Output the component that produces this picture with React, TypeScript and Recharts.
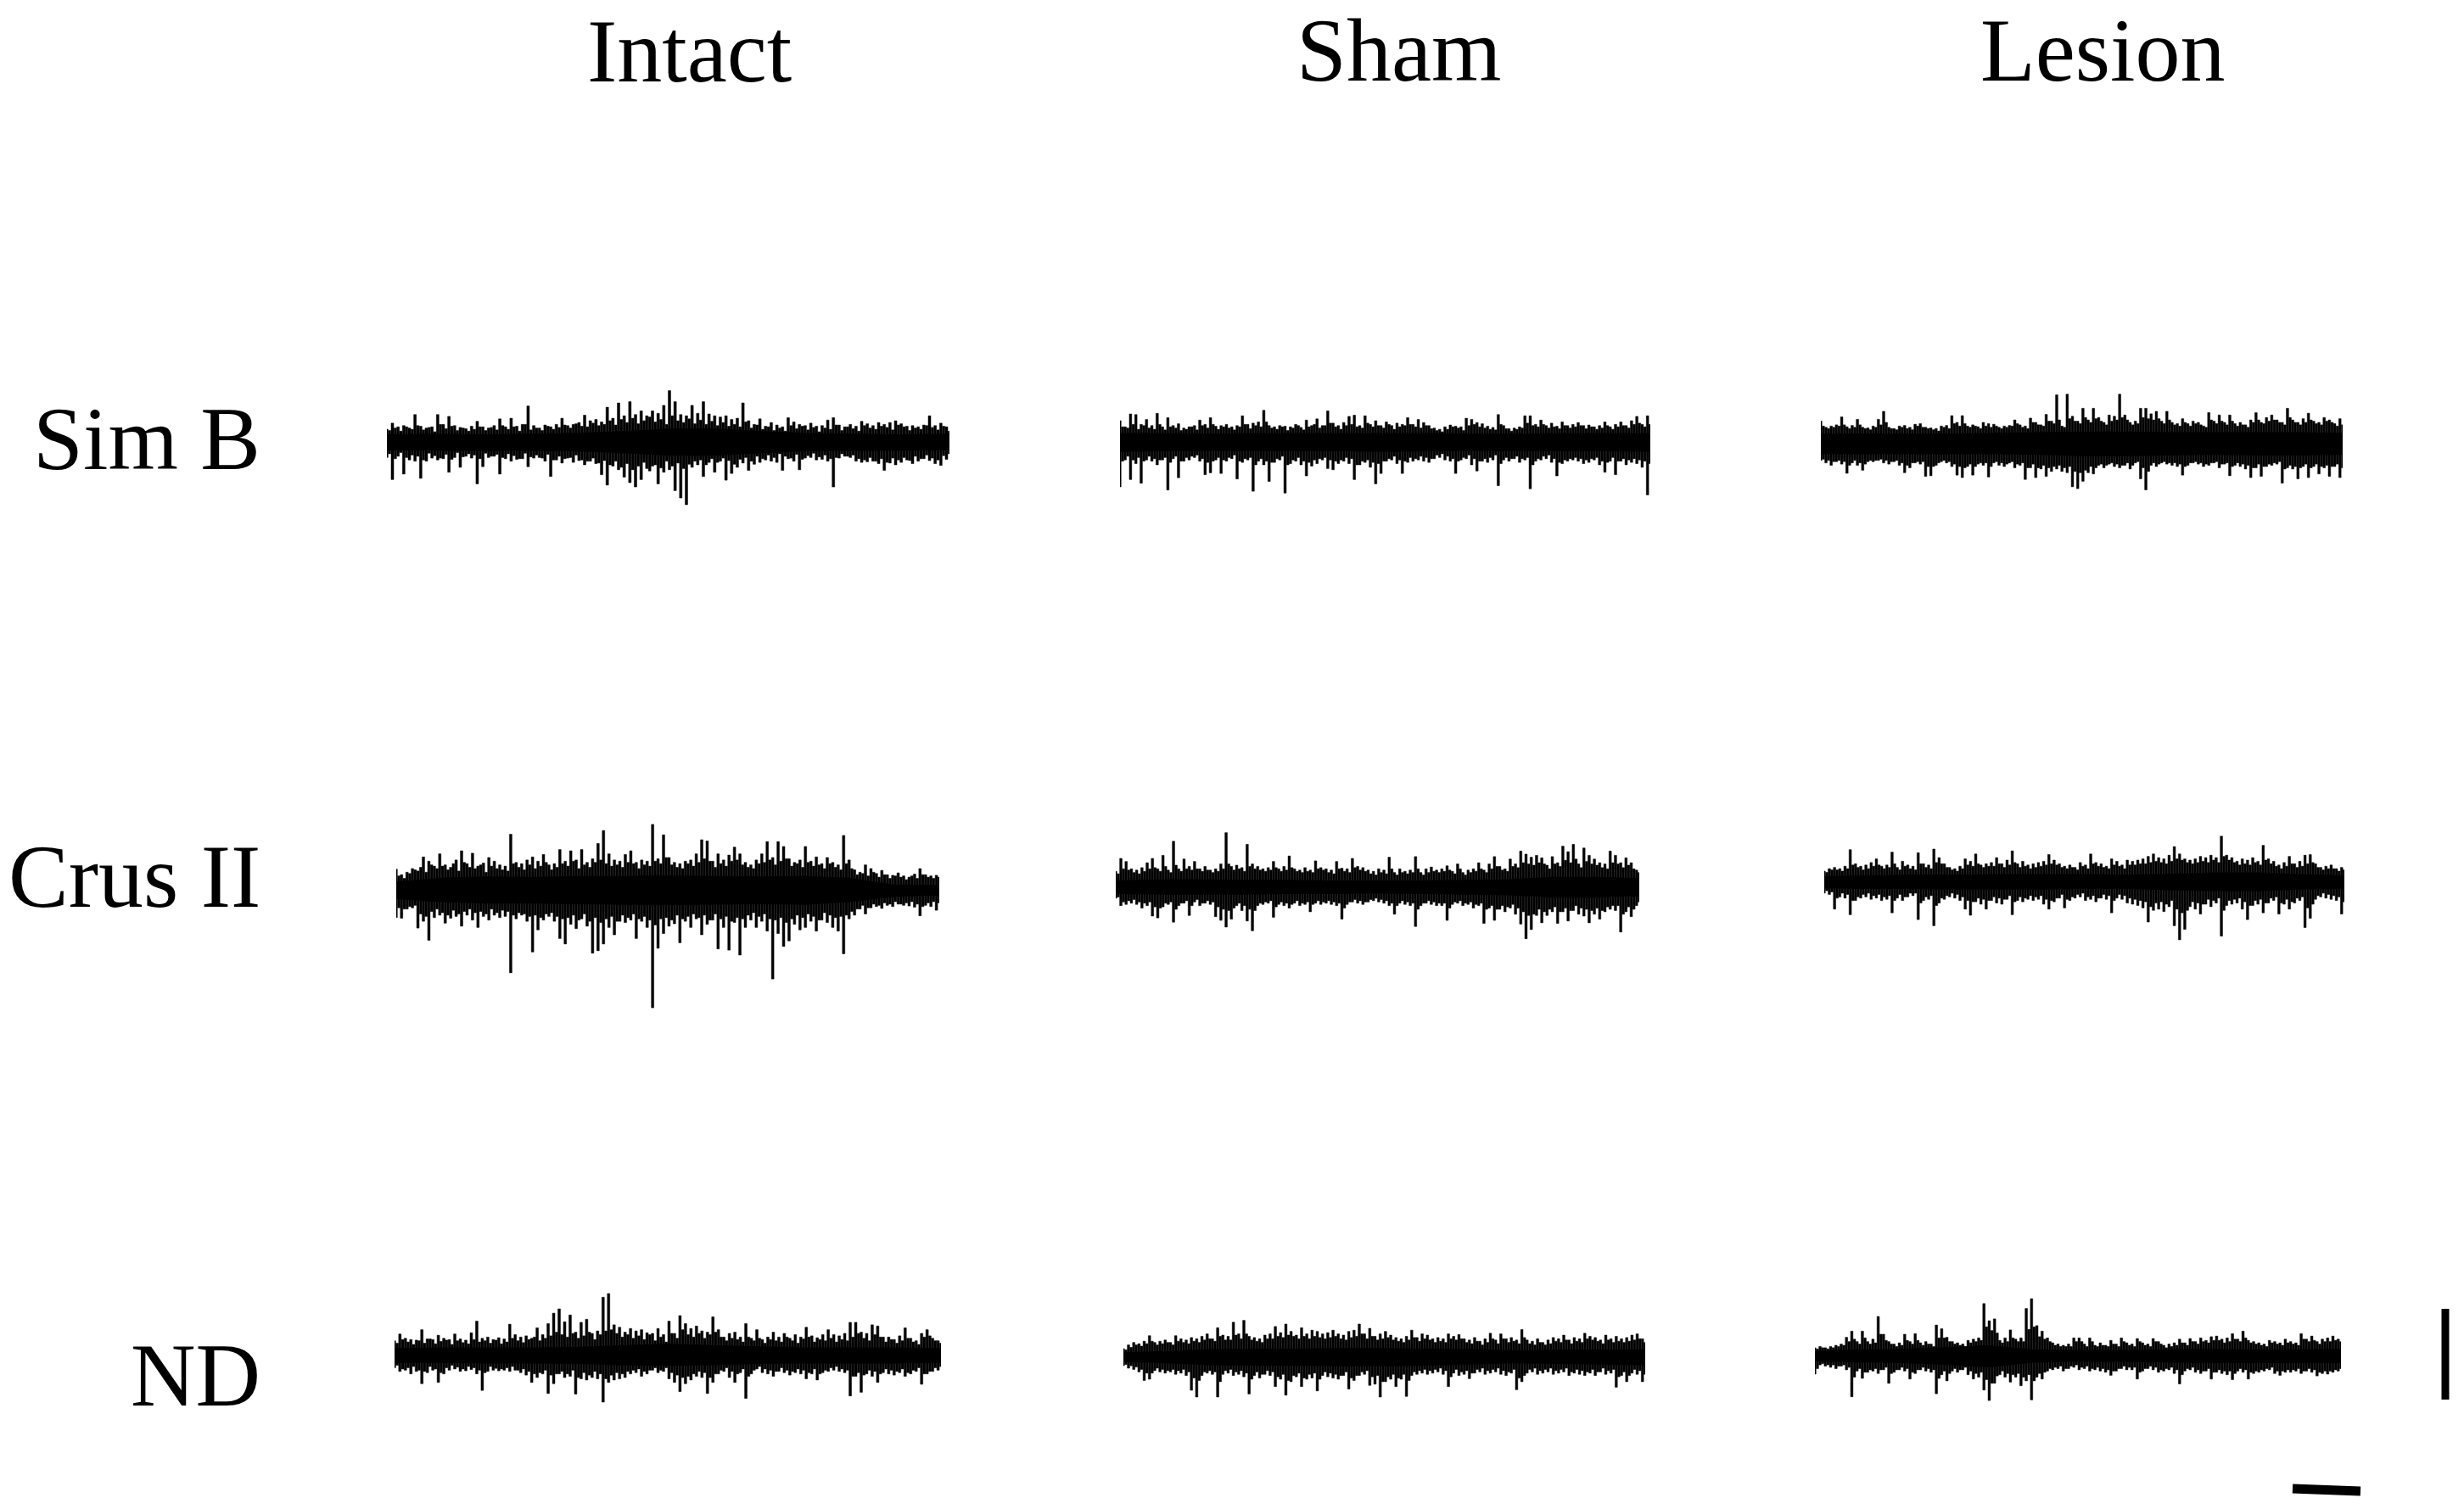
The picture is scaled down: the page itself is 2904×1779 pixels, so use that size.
import { Area, Bar, ComposedChart, XAxis, YAxis } from 'recharts';

const columns = ['Intact', 'Sham', 'Lesion'];
const rows = ['Sim B', 'Crus II', 'ND'];

// peak heights, one value per time bin, above and below the baseline
const intactSimBUp = [
  22, 32, 26, 28, 24, 46, 27, 24, 26, 46, 30, 43, 28, 25, 23, 27, 35, 26, 24, 28,
  39, 26, 40, 27, 30, 60, 28, 24, 29, 26, 30, 40, 28, 30, 33, 45, 36, 38, 34, 58,
  40, 65, 44, 67, 46, 52, 44, 52, 48, 61, 85, 67, 46, 44, 61, 48, 67, 47, 44, 42,
  44, 38, 40, 65, 36, 30, 39, 27, 33, 29, 26, 41, 34, 30, 28, 32, 27, 28, 37, 41,
  29, 26, 30, 27, 35, 31, 28, 33, 30, 33, 36, 31, 27, 28, 26, 29, 44, 28, 32, 26,
];
const intactSimBDown = [
  24, 60, 22, 51, 28, 30, 58, 30, 25, 28, 26, 48, 24, 40, 22, 25, 67, 39, 24, 22,
  51, 26, 30, 27, 26, 39, 25, 24, 30, 55, 28, 33, 25, 32, 29, 36, 30, 34, 52, 69,
  38, 44, 56, 65, 72, 60, 42, 38, 67, 48, 44, 78, 90, 101, 40, 36, 55, 32, 48, 30,
  61, 50, 40, 33, 45, 35, 32, 28, 30, 32, 45, 26, 30, 44, 25, 24, 28, 27, 30, 72,
  25, 22, 24, 30, 32, 31, 30, 34, 45, 33, 36, 32, 28, 34, 30, 26, 29, 34, 37, 27,
];
const intactCrusUp = [
  35, 26, 30, 36, 32, 55, 48, 40, 60, 42, 38, 50, 65, 44, 61, 40, 45, 54, 48, 42,
  40, 92, 46, 44, 50, 55, 48, 59, 42, 44, 67, 48, 65, 50, 67, 46, 52, 77, 98, 60,
  50, 48, 59, 65, 46, 50, 48, 108, 52, 91, 54, 46, 44, 48, 50, 60, 83, 81, 48, 60,
  50, 58, 71, 60, 46, 42, 50, 60, 80, 54, 80, 72, 52, 46, 50, 72, 48, 55, 44, 54,
  46, 42, 90, 50, 34, 30, 42, 36, 28, 33, 26, 25, 29, 24, 22, 27, 36, 26, 24, 25,
];
const intactCrusDown = [
  44, 45, 30, 28, 61, 50, 81, 44, 40, 53, 45, 42, 58, 40, 48, 60, 42, 48, 40, 44,
  42, 134, 46, 40, 50, 100, 64, 48, 42, 50, 78, 87, 55, 62, 46, 58, 102, 98, 87, 60,
  72, 50, 52, 48, 78, 50, 60, 191, 94, 70, 58, 54, 85, 50, 60, 46, 72, 55, 48, 95,
  60, 97, 52, 105, 60, 48, 60, 50, 66, 144, 70, 91, 82, 55, 64, 60, 50, 66, 48, 52,
  60, 66, 103, 46, 40, 30, 38, 28, 26, 29, 24, 26, 22, 24, 25, 27, 41, 24, 26, 32,
];
const intactNdUp = [
  24, 35, 28, 26, 25, 42, 27, 26, 33, 28, 26, 35, 27, 25, 37, 56, 28, 30, 26, 29,
  27, 51, 34, 30, 32, 28, 45, 34, 52, 69, 76, 55, 66, 38, 54, 59, 36, 40, 95, 101,
  50, 46, 38, 44, 40, 42, 37, 36, 44, 34, 56, 36, 65, 52, 44, 48, 40, 38, 63, 42,
  30, 36, 38, 30, 52, 28, 42, 26, 30, 38, 30, 36, 28, 34, 30, 46, 32, 29, 34, 42,
  34, 32, 36, 54, 54, 38, 36, 50, 48, 30, 30, 26, 32, 45, 28, 24, 36, 42, 28, 24,
];
const intactNdDown = [
  20, 26, 24, 30, 26, 46, 28, 24, 44, 30, 24, 22, 26, 25, 23, 30, 57, 26, 24, 25,
  24, 26, 24, 28, 32, 44, 36, 30, 62, 46, 30, 36, 34, 63, 38, 40, 36, 38, 76, 44,
  40, 38, 36, 30, 28, 34, 30, 24, 28, 26, 38, 44, 59, 46, 40, 34, 36, 62, 44, 30,
  26, 36, 44, 28, 70, 30, 22, 28, 30, 34, 26, 28, 32, 28, 30, 38, 30, 40, 28, 26,
  24, 26, 28, 66, 34, 60, 30, 34, 44, 28, 30, 32, 28, 34, 30, 26, 47, 30, 26, 24,
];
const shamSimBUp = [
  36, 26, 47, 46, 30, 38, 28, 48, 26, 41, 28, 31, 24, 26, 28, 37, 30, 41, 27, 28,
  30, 26, 28, 44, 30, 32, 34, 53, 28, 26, 28, 27, 26, 30, 25, 37, 28, 39, 28, 52,
  32, 28, 33, 43, 45, 28, 44, 30, 36, 28, 34, 28, 32, 30, 41, 30, 38, 33, 28, 24,
  22, 26, 29, 27, 26, 40, 38, 33, 31, 27, 25, 46, 28, 23, 24, 26, 44, 44, 30, 37,
  28, 32, 27, 34, 28, 30, 33, 28, 29, 26, 28, 34, 26, 30, 34, 28, 36, 43, 30, 44,
];
const shamSimBDown = [
  72, 28, 60, 34, 66, 28, 30, 36, 28, 77, 26, 57, 30, 28, 24, 30, 52, 49, 28, 50,
  30, 26, 59, 32, 28, 79, 30, 36, 63, 32, 28, 82, 34, 30, 36, 54, 38, 34, 28, 42,
  44, 34, 30, 34, 60, 36, 32, 40, 67, 50, 30, 28, 34, 50, 32, 30, 28, 30, 32, 26,
  24, 28, 30, 50, 28, 26, 36, 46, 30, 32, 28, 70, 28, 30, 26, 32, 28, 75, 30, 28,
  26, 32, 54, 34, 30, 28, 30, 34, 32, 28, 36, 48, 30, 52, 30, 36, 32, 34, 40, 85,
];
const shamCrusUp = [
  26, 47, 42, 30, 28, 32, 40, 47, 30, 52, 28, 75, 30, 46, 34, 42, 30, 34, 28, 30,
  38, 89, 34, 36, 32, 70, 38, 34, 30, 32, 42, 30, 34, 51, 30, 28, 32, 28, 43, 32,
  30, 28, 42, 31, 30, 47, 34, 32, 28, 26, 30, 28, 49, 24, 30, 26, 28, 50, 24, 30,
  33, 28, 30, 35, 26, 38, 24, 28, 30, 40, 28, 38, 50, 34, 30, 46, 38, 59, 54, 49,
  52, 48, 36, 50, 40, 67, 58, 70, 38, 64, 52, 46, 40, 38, 59, 52, 40, 48, 40, 28,
];
const shamCrusDown = [
  18, 30, 28, 26, 28, 34, 30, 47, 50, 32, 28, 57, 30, 26, 46, 24, 30, 26, 28, 48,
  54, 65, 52, 30, 38, 55, 71, 30, 28, 26, 49, 28, 30, 34, 26, 30, 28, 40, 26, 28,
  26, 28, 30, 52, 28, 24, 26, 28, 24, 22, 24, 26, 30, 44, 26, 28, 30, 64, 30, 26,
  28, 30, 30, 54, 28, 26, 30, 28, 34, 30, 59, 34, 54, 36, 40, 34, 44, 60, 84, 69,
  46, 58, 46, 40, 59, 40, 55, 38, 44, 47, 58, 44, 52, 40, 36, 38, 73, 40, 48, 30,
];
const shamNdUp = [
  14, 20, 24, 22, 26, 35, 24, 26, 28, 24, 35, 30, 28, 32, 30, 34, 38, 30, 48, 36,
  34, 57, 38, 60, 34, 32, 30, 36, 38, 50, 40, 54, 42, 36, 48, 38, 44, 42, 38, 40,
  44, 38, 36, 42, 44, 54, 38, 47, 34, 38, 42, 36, 32, 30, 34, 44, 32, 38, 36, 30,
  32, 30, 38, 34, 37, 30, 28, 32, 26, 30, 39, 28, 38, 30, 32, 28, 45, 28, 26, 30,
  24, 28, 32, 30, 36, 28, 32, 30, 39, 34, 32, 28, 36, 30, 34, 30, 32, 36, 38, 30,
];
const shamNdDown = [
  14, 18, 20, 24, 38, 36, 22, 24, 26, 24, 28, 26, 30, 54, 65, 30, 26, 28, 65, 28,
  26, 30, 28, 32, 60, 30, 34, 28, 30, 48, 36, 62, 40, 32, 48, 36, 34, 55, 30, 32,
  34, 36, 30, 52, 38, 30, 28, 46, 44, 65, 40, 36, 48, 36, 64, 30, 28, 26, 28, 26,
  24, 28, 48, 26, 30, 28, 35, 26, 24, 28, 26, 24, 28, 30, 26, 53, 40, 26, 24, 28,
  26, 24, 28, 26, 24, 30, 26, 28, 30, 26, 30, 24, 28, 26, 49, 30, 40, 26, 28, 40,
];
const lesionSimBUp = [
  38, 28, 30, 32, 45, 29, 31, 41, 28, 27, 30, 41, 54, 28, 26, 30, 31, 28, 33, 34,
  28, 27, 26, 30, 31, 47, 36, 47, 30, 32, 29, 36, 34, 33, 28, 30, 31, 40, 32, 30,
  43, 36, 32, 49, 38, 81, 30, 82, 46, 38, 59, 40, 59, 44, 36, 48, 46, 82, 48, 36,
  38, 59, 59, 50, 54, 38, 54, 36, 34, 42, 34, 38, 36, 30, 52, 38, 48, 36, 48, 34,
  36, 32, 40, 52, 36, 44, 48, 40, 36, 59, 40, 36, 42, 51, 38, 36, 44, 40, 34, 42,
];
const lesionSimBDown = [
  26, 30, 34, 28, 32, 47, 30, 34, 42, 28, 28, 26, 30, 32, 28, 34, 46, 38, 30, 32,
  52, 51, 34, 28, 30, 36, 50, 54, 36, 50, 32, 34, 53, 30, 34, 36, 30, 38, 34, 57,
  38, 54, 40, 52, 44, 40, 44, 46, 69, 72, 60, 46, 48, 34, 38, 32, 36, 38, 34, 40,
  30, 56, 74, 34, 36, 30, 32, 34, 36, 50, 34, 30, 32, 36, 34, 30, 38, 32, 51, 34,
  36, 40, 54, 38, 52, 36, 34, 32, 63, 38, 40, 56, 36, 54, 36, 48, 38, 52, 36, 54,
];
const lesionCrusUp = [
  18, 22, 24, 22, 26, 53, 30, 26, 28, 32, 38, 26, 28, 49, 24, 34, 28, 26, 48, 30,
  28, 54, 40, 30, 24, 22, 26, 38, 34, 46, 28, 30, 32, 40, 30, 36, 51, 30, 34, 28,
  30, 32, 34, 45, 36, 30, 26, 28, 24, 32, 28, 46, 32, 30, 26, 38, 34, 28, 36, 34,
  36, 38, 42, 46, 40, 38, 44, 58, 46, 38, 36, 38, 42, 40, 44, 40, 75, 44, 40, 34,
  38, 36, 40, 34, 60, 38, 34, 28, 32, 42, 30, 34, 44, 45, 30, 24, 26, 28, 22, 24,
];
const lesionCrusDown = [
  18, 20, 44, 24, 26, 53, 30, 26, 24, 28, 26, 30, 28, 50, 26, 30, 24, 22, 61, 30,
  28, 71, 34, 28, 24, 26, 30, 44, 54, 32, 36, 44, 30, 34, 36, 28, 53, 30, 32, 28,
  30, 28, 36, 44, 32, 26, 42, 30, 26, 24, 30, 28, 32, 26, 28, 50, 26, 28, 34, 36,
  38, 42, 65, 46, 44, 48, 40, 71, 94, 77, 40, 44, 52, 36, 40, 34, 88, 38, 36, 34,
  44, 61, 38, 36, 50, 34, 30, 52, 36, 44, 34, 30, 74, 59, 28, 24, 26, 28, 30, 52,
];
const lesionNdUp = [
  14, 16, 14, 16, 18, 20, 31, 41, 24, 41, 24, 28, 65, 36, 24, 20, 22, 36, 24, 37,
  22, 24, 20, 51, 45, 31, 24, 22, 20, 26, 28, 30, 86, 58, 61, 26, 30, 43, 28, 30,
  78, 94, 50, 41, 30, 22, 20, 18, 20, 30, 30, 20, 30, 18, 22, 18, 26, 20, 30, 22,
  20, 29, 22, 20, 29, 24, 18, 20, 22, 28, 22, 29, 24, 30, 26, 32, 33, 28, 30, 37,
  28, 41, 26, 24, 22, 20, 26, 24, 22, 28, 24, 22, 37, 28, 33, 24, 28, 30, 33, 28,
];
const lesionNdDown = [
  29, 14, 16, 18, 20, 16, 22, 66, 24, 36, 26, 24, 28, 22, 44, 26, 22, 24, 37, 28,
  22, 24, 26, 61, 30, 40, 24, 26, 22, 30, 37, 34, 55, 72, 44, 30, 34, 42, 34, 48,
  40, 71, 34, 37, 24, 22, 20, 24, 20, 18, 22, 20, 24, 22, 24, 26, 31, 24, 20, 22,
  22, 37, 24, 20, 22, 26, 24, 22, 28, 45, 24, 22, 26, 28, 24, 37, 26, 28, 30, 38,
  24, 26, 37, 28, 26, 24, 22, 28, 31, 26, 26, 24, 28, 24, 26, 32, 28, 29, 26, 24,
];

// lower fringe between the peaks, same number of bins
const intactSimBMidUp = [
  20, 24, 19, 26, 22, 28, 21, 25, 18, 30, 23, 27, 20, 24, 19, 22, 26, 20, 25, 21,
  28, 22, 26, 19, 30, 21, 24, 20, 27, 22, 25, 29, 24, 31, 27, 26, 32, 28, 30, 36,
  29, 38, 33, 40, 31, 36, 42, 34, 38, 30, 44, 36, 33, 39, 31, 37, 30, 35, 28, 33,
  27, 30, 26, 34, 24, 29, 22, 26, 20, 24, 19, 28, 23, 27, 21, 25, 18, 24, 22, 29,
  20, 26, 23, 19, 28, 24, 22, 27, 25, 21, 29, 26, 20, 24, 22, 28, 25, 21, 27, 19,
];
const intactSimBMidDown = [
  18, 26, 16, 24, 20, 22, 28, 17, 21, 25, 19, 27, 16, 23, 18, 20, 26, 17, 22, 19,
  24, 18, 21, 26, 17, 23, 20, 25, 19, 28, 22, 26, 24, 20, 28, 30, 25, 33, 29, 36,
  30, 40, 34, 44, 38, 32, 46, 36, 41, 30, 38, 33, 42, 35, 30, 28, 36, 26, 32, 25,
  29, 35, 27, 24, 30, 22, 26, 20, 24, 18, 22, 25, 19, 27, 21, 17, 23, 20, 26, 24,
  18, 22, 20, 26, 28, 24, 30, 26, 32, 25, 28, 24, 29, 22, 26, 20, 25, 28, 21, 18,
];
const intactCrusMidUp = [
  24, 20, 28, 34, 38, 30, 42, 36, 40, 34, 44, 32, 46, 38, 36, 42, 30, 40, 36, 34,
  32, 44, 38, 34, 42, 36, 40, 46, 34, 38, 44, 40, 48, 36, 42, 38, 46, 50, 44, 40,
  42, 38, 46, 44, 36, 42, 40, 48, 44, 54, 42, 38, 36, 44, 40, 46, 52, 48, 38, 44,
  40, 48, 50, 42, 38, 36, 44, 46, 50, 42, 48, 52, 40, 44, 38, 46, 40, 42, 36, 44,
  38, 34, 44, 36, 26, 28, 24, 30, 22, 26, 20, 24, 22, 18, 24, 20, 26, 22, 20, 22,
];
const intactCrusMidDown = [
  28, 30, 26, 24, 38, 42, 34, 30, 36, 40, 32, 38, 34, 30, 36, 34, 38, 30, 36, 32,
  34, 40, 36, 38, 42, 40, 44, 38, 36, 42, 46, 44, 40, 48, 38, 50, 44, 52, 46, 42,
  50, 40, 44, 38, 46, 42, 48, 56, 46, 44, 48, 40, 46, 42, 38, 44, 40, 48, 38, 46,
  42, 50, 44, 46, 40, 36, 42, 38, 46, 48, 44, 52, 46, 40, 44, 38, 42, 48, 36, 40,
  44, 42, 40, 34, 30, 24, 28, 22, 24, 20, 22, 18, 22, 20, 18, 22, 26, 20, 18, 20,
];
const intactNdMidUp = [
  20, 26, 22, 18, 24, 20, 27, 19, 23, 25, 18, 24, 21, 19, 26, 22, 24, 20, 25, 19,
  22, 28, 24, 21, 26, 30, 24, 28, 32, 38, 34, 30, 36, 28, 32, 38, 26, 34, 40, 42,
  36, 30, 34, 28, 32, 26, 34, 24, 30, 22, 36, 28, 42, 34, 30, 36, 28, 34, 38, 30,
  24, 28, 26, 22, 30, 24, 28, 20, 26, 24, 22, 30, 24, 20, 27, 30, 22, 26, 24, 28,
  22, 26, 24, 30, 36, 28, 24, 34, 30, 22, 26, 20, 24, 28, 22, 18, 30, 32, 24, 20,
];
const intactNdMidDown = [
  16, 22, 20, 18, 24, 26, 18, 22, 28, 20, 16, 19, 22, 18, 20, 24, 28, 18, 21, 22,
  20, 18, 24, 22, 26, 30, 28, 24, 32, 30, 26, 30, 24, 36, 28, 32, 26, 30, 38, 32,
  28, 30, 26, 24, 22, 26, 24, 20, 24, 20, 28, 32, 36, 34, 30, 26, 28, 36, 30, 24,
  20, 26, 30, 22, 34, 24, 18, 22, 24, 26, 20, 24, 26, 22, 24, 28, 22, 30, 24, 20,
  18, 22, 24, 34, 28, 32, 24, 26, 30, 22, 24, 26, 22, 28, 24, 20, 30, 26, 20, 18,
];
const shamSimBMidUp = [
  26, 24, 30, 22, 28, 24, 22, 30, 21, 26, 24, 20, 22, 26, 21, 28, 24, 30, 22, 26,
  24, 21, 26, 30, 23, 28, 26, 34, 24, 22, 26, 20, 24, 28, 21, 26, 30, 24, 28, 32,
  26, 22, 28, 30, 26, 24, 32, 26, 28, 24, 30, 22, 26, 28, 30, 26, 24, 28, 23, 20,
  18, 22, 26, 24, 20, 28, 30, 26, 24, 22, 21, 30, 23, 19, 22, 24, 32, 28, 26, 30,
  24, 26, 23, 28, 24, 26, 28, 23, 26, 22, 24, 28, 22, 26, 28, 24, 30, 32, 26, 30,
];
const shamSimBMidDown = [
  30, 22, 28, 24, 30, 22, 26, 28, 24, 32, 22, 30, 24, 22, 20, 26, 32, 30, 24, 28,
  24, 20, 30, 26, 24, 36, 26, 30, 32, 26, 22, 36, 28, 24, 30, 32, 28, 26, 24, 28,
  30, 28, 24, 26, 36, 30, 28, 32, 34, 30, 26, 22, 28, 30, 24, 26, 22, 24, 26, 20,
  18, 22, 26, 30, 24, 20, 26, 30, 26, 24, 20, 34, 24, 26, 22, 26, 24, 36, 26, 22,
  20, 26, 32, 28, 26, 24, 26, 28, 26, 24, 30, 32, 24, 30, 26, 28, 26, 28, 30, 34,
];
const shamCrusMidUp = [
  22, 30, 28, 24, 22, 26, 30, 32, 26, 34, 24, 36, 26, 30, 28, 30, 26, 28, 24, 26,
  30, 38, 28, 30, 26, 34, 30, 28, 26, 28, 32, 26, 28, 32, 26, 24, 26, 24, 30, 28,
  24, 22, 30, 26, 24, 32, 28, 26, 22, 20, 24, 22, 30, 20, 24, 22, 24, 30, 20, 24,
  26, 24, 26, 28, 22, 30, 20, 24, 26, 30, 24, 30, 34, 28, 26, 34, 32, 40, 38, 36,
  40, 38, 30, 38, 34, 44, 40, 46, 32, 42, 38, 36, 32, 30, 40, 38, 32, 36, 30, 24,
];
const shamCrusMidDown = [
  16, 24, 22, 20, 24, 26, 24, 32, 34, 26, 24, 36, 26, 22, 30, 20, 26, 22, 24, 32,
  36, 38, 34, 26, 30, 36, 38, 26, 24, 22, 32, 24, 26, 28, 22, 26, 24, 28, 22, 24,
  22, 24, 26, 34, 24, 20, 22, 24, 20, 18, 20, 22, 26, 30, 22, 24, 26, 36, 26, 22,
  24, 26, 26, 34, 24, 22, 26, 24, 28, 26, 36, 30, 36, 30, 32, 28, 34, 40, 46, 44,
  36, 40, 36, 32, 40, 34, 38, 30, 34, 36, 38, 34, 38, 32, 30, 30, 44, 32, 36, 24,
];
const shamNdMidUp = [
  12, 16, 20, 18, 22, 26, 20, 22, 24, 20, 26, 24, 22, 26, 24, 28, 30, 26, 34, 28,
  28, 36, 30, 38, 28, 26, 24, 30, 30, 34, 32, 36, 34, 30, 34, 30, 34, 32, 30, 32,
  34, 30, 28, 32, 34, 38, 30, 34, 28, 30, 32, 28, 26, 24, 28, 32, 26, 30, 28, 24,
  26, 24, 30, 28, 30, 24, 22, 26, 20, 24, 30, 22, 30, 24, 26, 22, 32, 22, 20, 24,
  20, 22, 26, 24, 28, 22, 26, 24, 30, 28, 26, 22, 28, 24, 26, 24, 26, 28, 30, 24,
];
const shamNdMidDown = [
  12, 14, 16, 20, 26, 26, 18, 20, 22, 20, 22, 20, 24, 34, 38, 24, 22, 24, 40, 22,
  20, 24, 22, 26, 36, 24, 28, 22, 24, 32, 28, 38, 30, 26, 34, 28, 26, 36, 24, 26,
  28, 30, 24, 34, 30, 24, 22, 32, 30, 40, 32, 28, 34, 28, 38, 24, 22, 20, 22, 20,
  18, 22, 32, 20, 24, 22, 26, 20, 18, 22, 20, 18, 22, 24, 20, 34, 30, 20, 18, 22,
  20, 18, 22, 20, 18, 24, 20, 22, 24, 20, 24, 18, 22, 20, 32, 24, 30, 20, 22, 28,
];
const lesionSimBMidUp = [
  30, 26, 28, 30, 32, 26, 28, 32, 26, 24, 28, 32, 36, 26, 24, 28, 26, 24, 30, 28,
  26, 24, 22, 28, 26, 34, 30, 34, 28, 30, 26, 30, 28, 30, 26, 28, 30, 34, 28, 26,
  36, 32, 30, 38, 34, 40, 28, 42, 38, 34, 44, 36, 42, 38, 32, 38, 40, 44, 40, 32,
  34, 44, 42, 40, 42, 34, 40, 32, 30, 36, 30, 34, 32, 28, 40, 34, 38, 32, 38, 30,
  32, 28, 36, 40, 34, 38, 40, 36, 32, 44, 36, 32, 36, 40, 34, 32, 38, 36, 30, 32,
];
const lesionSimBMidDown = [
  24, 26, 28, 26, 28, 34, 26, 30, 32, 26, 26, 24, 26, 28, 26, 30, 34, 30, 28, 28,
  36, 36, 30, 26, 28, 32, 36, 38, 32, 36, 30, 30, 36, 28, 30, 32, 28, 32, 30, 38,
  32, 38, 34, 38, 36, 34, 38, 36, 44, 46, 42, 36, 38, 32, 34, 30, 32, 34, 30, 34,
  28, 38, 44, 30, 32, 28, 30, 30, 32, 36, 30, 28, 30, 32, 30, 28, 32, 30, 36, 30,
  32, 34, 38, 32, 36, 32, 30, 28, 40, 34, 36, 38, 32, 38, 32, 36, 34, 36, 32, 38,
];
const lesionCrusMidUp = [
  16, 20, 20, 18, 22, 28, 24, 20, 22, 26, 28, 22, 24, 30, 20, 26, 22, 20, 30, 24,
  22, 32, 30, 24, 20, 18, 22, 28, 26, 30, 24, 26, 26, 30, 24, 28, 32, 24, 26, 22,
  24, 26, 28, 30, 28, 24, 22, 24, 20, 26, 22, 30, 26, 24, 22, 28, 26, 22, 28, 28,
  30, 30, 32, 34, 32, 30, 34, 38, 36, 32, 30, 32, 34, 32, 36, 32, 42, 36, 32, 28,
  30, 28, 32, 28, 36, 30, 26, 22, 26, 30, 24, 26, 30, 32, 24, 20, 22, 22, 18, 20,
];
const lesionCrusMidDown = [
  14, 16, 26, 18, 20, 30, 24, 20, 18, 22, 20, 24, 22, 30, 20, 24, 18, 18, 34, 24,
  22, 38, 26, 22, 18, 20, 24, 30, 32, 26, 28, 30, 24, 26, 28, 22, 32, 24, 26, 22,
  24, 22, 28, 30, 26, 20, 28, 24, 20, 18, 24, 22, 26, 20, 22, 30, 20, 22, 26, 28,
  30, 32, 40, 34, 32, 36, 30, 44, 50, 46, 32, 34, 36, 28, 30, 26, 46, 30, 28, 26,
  32, 38, 30, 28, 34, 26, 24, 34, 28, 32, 26, 24, 42, 36, 22, 18, 20, 22, 24, 32,
];
const lesionNdMidUp = [
  12, 14, 12, 14, 16, 18, 24, 28, 20, 30, 20, 22, 36, 26, 20, 16, 18, 26, 20, 26,
  18, 20, 16, 30, 30, 24, 20, 18, 16, 22, 24, 26, 48, 42, 38, 22, 24, 30, 24, 24,
  44, 48, 32, 28, 24, 18, 16, 16, 16, 24, 24, 16, 24, 16, 18, 16, 20, 16, 24, 18,
  16, 24, 18, 16, 24, 20, 14, 16, 18, 22, 18, 24, 20, 24, 22, 26, 26, 22, 24, 28,
  24, 30, 22, 20, 18, 16, 22, 20, 18, 22, 20, 18, 28, 24, 26, 20, 24, 24, 26, 24,
];
const lesionNdMidDown = [
  20, 12, 14, 14, 16, 14, 18, 34, 20, 26, 22, 20, 22, 18, 28, 22, 18, 20, 26, 22,
  18, 20, 22, 36, 24, 28, 20, 22, 18, 24, 28, 26, 38, 44, 32, 24, 28, 30, 28, 34,
  30, 40, 28, 26, 20, 18, 16, 20, 16, 14, 18, 16, 20, 18, 20, 22, 24, 20, 16, 18,
  18, 26, 20, 16, 18, 22, 20, 18, 22, 30, 20, 18, 22, 24, 20, 26, 22, 24, 24, 28,
  20, 22, 26, 24, 22, 20, 18, 24, 24, 22, 22, 20, 24, 20, 22, 26, 24, 24, 22, 20,
];

// solid part of each trace, coarse outline along the recording
const intactSimBCoreUp = [14, 15, 14, 15, 16, 19, 23, 23, 19, 16, 15, 14, 15];
const intactSimBCoreDown = [12, 13, 13, 13, 14, 17, 21, 21, 17, 14, 13, 13, 12];
const intactCrusCoreUp = [15, 21, 23, 22, 24, 24, 25, 24, 23, 24, 21, 10, 9];
const intactCrusCoreDown = [14, 19, 21, 21, 22, 23, 24, 23, 22, 23, 19, 10, 8];
const intactNdCoreUp = [12, 13, 13, 13, 14, 17, 19, 17, 15, 13, 13, 13, 12];
const intactNdCoreDown = [12, 12, 13, 13, 14, 16, 17, 16, 14, 13, 13, 13, 12];
const shamSimBCoreUp = [16, 16, 15, 16, 16, 16, 16, 16, 15, 15, 16, 16, 16];
const shamSimBCoreDown = [15, 14, 13, 14, 14, 14, 15, 14, 13, 14, 14, 14, 15];
const shamCrusCoreUp = [11, 13, 13, 12, 12, 11, 11, 11, 12, 13, 17, 17, 15];
const shamCrusCoreDown = [11, 12, 12, 12, 11, 11, 10, 11, 12, 13, 17, 17, 15];
const shamNdCoreUp = [8, 10, 13, 14, 14, 15, 15, 14, 13, 11, 12, 12, 13];
const shamNdCoreDown = [8, 10, 13, 14, 14, 15, 15, 14, 12, 10, 11, 12, 13];
const lesionSimBCoreUp = [18, 18, 18, 18, 19, 20, 21, 21, 20, 20, 20, 20, 19];
const lesionSimBCoreDown = [16, 16, 16, 16, 16, 17, 19, 19, 18, 17, 18, 18, 17];
const lesionCrusCoreUp = [10, 11, 12, 12, 13, 13, 13, 12, 14, 16, 16, 13, 11];
const lesionCrusCoreDown = [10, 11, 11, 12, 12, 12, 11, 11, 13, 15, 15, 12, 11];
const lesionNdCoreUp = [9, 11, 12, 15, 18, 11, 10, 10, 11, 12, 11, 11, 12];
const lesionNdCoreDown = [8, 10, 11, 14, 18, 10, 9, 9, 10, 11, 11, 11, 11];

const TRACE_HEIGHT = 400;
const UNITS_PER_PX = 1 / 0.723;

function Trace({ up, down, midUp, midDown, coreUp, coreDown, left, right, center }: any) {
  const data = up.flatMap((u: number, i: number) => [
    { t: i * 2, spike: [-down[i], u] },
    { t: i * 2 + 1, spike: [-midDown[i], midUp[i]] },
  ]);
  const lastBin = data.length - 1;
  // whole bins only: the bar width comes from the smallest gap between x values
  const core = coreUp.map((u: number, i: number) => ({
    t: Math.round((i * lastBin) / (coreUp.length - 1)),
    band: [-coreDown[i], u],
  }));
  const halfRange = (TRACE_HEIGHT / 2) * UNITS_PER_PX;

  return (
    <div style={{ position: 'absolute', left, top: center - TRACE_HEIGHT / 2 }}>
      <ComposedChart
        width={right - left}
        height={TRACE_HEIGHT}
        data={data}
        margin={{ top: 0, right: 0, bottom: 0, left: 0 }}
      >
        <XAxis hide type="number" dataKey="t" domain={[0, lastBin]} />
        <YAxis hide type="number" domain={[-halfRange, halfRange]} />
        <Area
          data={core}
          dataKey="band"
          type="linear"
          fill="#000"
          fillOpacity={1}
          stroke="none"
          dot={false}
          activeDot={false}
          isAnimationActive={false}
        />
        <Bar
          dataKey="spike"
          fill="#000"
          stroke="#000"
          strokeWidth={0.5}
          barSize={(right - left) / lastBin + 0.2}
          isAnimationActive={false}
        />
      </ComposedChart>
    </div>
  );
}

const labelStyle = { fontFamily: '"Liberation Serif", serif', fontSize: 106, fill: '#000' };

export default function App() {
  return (
    <div style={{ position: 'absolute', left: 0, top: 0, width: 2904, height: 1779, background: '#fff', overflow: 'hidden' }}>
      <Trace up={intactSimBUp} down={intactSimBDown} midUp={intactSimBMidUp} midDown={intactSimBMidDown} coreUp={intactSimBCoreUp} coreDown={intactSimBCoreDown} left={456} right={1119} center={522} />
      <Trace up={shamSimBUp} down={shamSimBDown} midUp={shamSimBMidUp} midDown={shamSimBMidDown} coreUp={shamSimBCoreUp} coreDown={shamSimBCoreDown} left={1320} right={1945} center={522} />
      <Trace up={lesionSimBUp} down={lesionSimBDown} midUp={lesionSimBMidUp} midDown={lesionSimBMidDown} coreUp={lesionSimBCoreUp} coreDown={lesionSimBCoreDown} left={2146} right={2761} center={524} />
      <Trace up={intactCrusUp} down={intactCrusDown} midUp={intactCrusMidUp} midDown={intactCrusMidDown} coreUp={intactCrusCoreUp} coreDown={intactCrusCoreDown} left={467} right={1107} center={1050} />
      <Trace up={shamCrusUp} down={shamCrusDown} midUp={shamCrusMidUp} midDown={shamCrusMidDown} coreUp={shamCrusCoreUp} coreDown={shamCrusCoreDown} left={1315} right={1932} center={1046} />
      <Trace up={lesionCrusUp} down={lesionCrusDown} midUp={lesionCrusMidUp} midDown={lesionCrusMidDown} coreUp={lesionCrusCoreUp} coreDown={lesionCrusCoreDown} left={2150} right={2763} center={1040} />
      <Trace up={intactNdUp} down={intactNdDown} midUp={intactNdMidUp} midDown={intactNdMidDown} coreUp={intactNdCoreUp} coreDown={intactNdCoreDown} left={465} right={1109} center={1598} />
      <Trace up={shamNdUp} down={shamNdDown} midUp={shamNdMidUp} midDown={shamNdMidDown} coreUp={shamNdCoreUp} coreDown={shamNdCoreDown} left={1324} right={1939} center={1600} />
      <Trace up={lesionNdUp} down={lesionNdDown} midUp={lesionNdMidUp} midDown={lesionNdMidDown} coreUp={lesionNdCoreUp} coreDown={lesionNdCoreDown} left={2139} right={2759} center={1599} />

      <svg width={2904} height={1779} style={{ position: 'absolute', left: 0, top: 0, pointerEvents: 'none' }}>
        <text x={692} y={96} style={labelStyle}>{columns[0]}</text>
        <text x={1528} y={95} style={labelStyle}>{columns[1]}</text>
        <text x={2334} y={95} style={labelStyle}>{columns[2]}</text>
        <text x={39} y={553} style={labelStyle}>{rows[0]}</text>
        <text x={10} y={1069} style={labelStyle}>{rows[1]}</text>
        <text x={154} y={1657} style={labelStyle}>{rows[2]}</text>
        <line x1={2882} y1={1543} x2={2882} y2={1650} stroke="#000" strokeWidth={9} />
        <line x1={2702} y1={1755} x2={2782} y2={1758} stroke="#000" strokeWidth={11} />
      </svg>
    </div>
  );
}
